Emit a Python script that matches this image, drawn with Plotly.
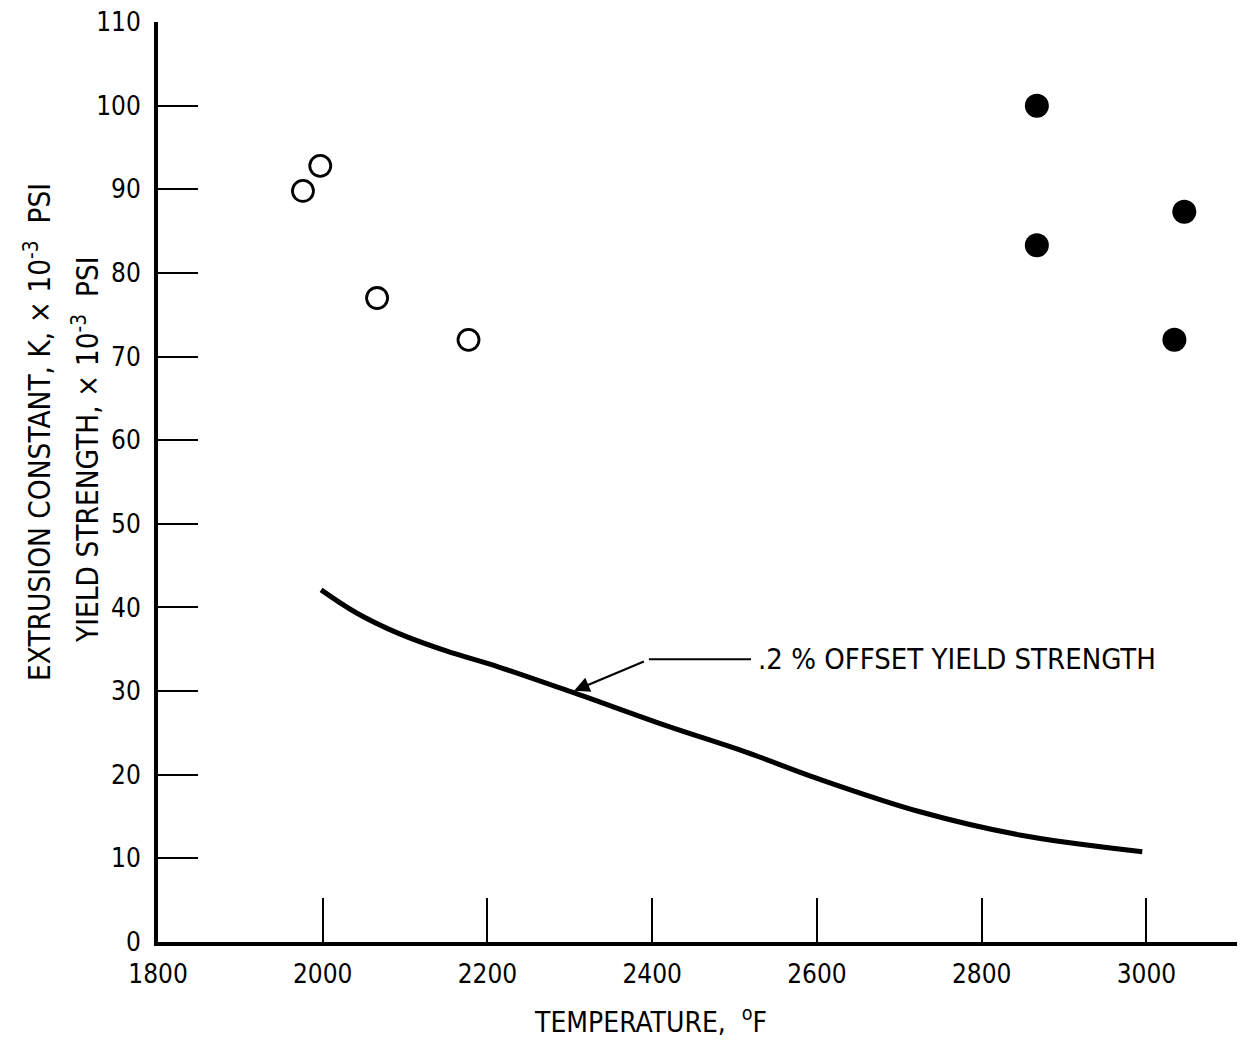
import plotly.graph_objects as go

# Open circles (extrusion constant, lower-temperature set)
open_temp = [1976, 1997, 2066, 2177]
open_k = [89.8, 92.8, 77.0, 72.0]

# Filled circles (extrusion constant, higher-temperature set)
filled_temp = [2867, 2867, 3046, 3034]
filled_k = [100.0, 83.3, 87.3, 72.0]

# 0.2 % offset yield strength curve
ys_temp = [1998, 2040, 2092, 2150, 2213, 2302, 2416, 2514, 2602, 2724, 2846, 2995]
ys_val = [42.1, 39.4, 36.9, 34.8, 32.9, 29.9, 25.9, 22.7, 19.5, 15.6, 12.8, 10.8]

x_ticks = [1800, 2000, 2200, 2400, 2600, 2800, 3000]
y_ticks = [0, 10, 20, 30, 40, 50, 60, 70, 80, 90, 100, 110]

FONT = "Liberation Sans Narrow, DejaVu Sans Condensed, Roboto Condensed, Lato, sans-serif"

plot_l, plot_r, plot_t, plot_b = 158, 1237, 22, 942
W, H = 1242, 1046

fig = go.Figure()

fig.add_trace(go.Scatter(
    x=ys_temp, y=ys_val, mode="lines",
    line=dict(color="black", width=5, shape="spline", smoothing=1.0),
    showlegend=False, hoverinfo="skip"))

fig.add_trace(go.Scatter(
    x=open_temp, y=open_k, mode="markers",
    marker=dict(symbol="circle-open", size=21, color="black", line=dict(width=2.8, color="black")),
    showlegend=False, cliponaxis=False))

fig.add_trace(go.Scatter(
    x=filled_temp, y=filled_k, mode="markers",
    marker=dict(symbol="circle", size=24, color="black"),
    showlegend=False, cliponaxis=False))

# Callout leader line
fig.add_shape(type="line", x0=2396, y0=33.8, x1=2520, y1=33.8,
              xref="x", yref="y", line=dict(color="black", width=2))
fig.add_annotation(x=2304, y=30.0, ax=2396, ay=33.8, axref="x", ayref="y",
                   xref="x", yref="y", text=" ", showarrow=True,
                   arrowhead=2, arrowsize=1.4, arrowwidth=2.2, arrowcolor="black", standoff=1)
fig.add_annotation(x=2526, y=33.8, xref="x", yref="y", text=".2 % OFFSET YIELD STRENGTH",
                   showarrow=False, xanchor="left", yanchor="middle",
                   font=dict(family=FONT, size=29, color="black"))

fig.update_layout(
    width=W, height=H,
    margin=dict(l=plot_l, r=W - plot_r, t=plot_t, b=H - plot_b),
    paper_bgcolor="white", plot_bgcolor="white",
    font=dict(family=FONT, size=26, color="black"),
    xaxis=dict(range=[1800, 3110], tickvals=x_ticks, ticktext=[str(v) for v in x_ticks],
               showgrid=False, zeroline=False, showline=True, linecolor="black", linewidth=4,
               ticks="inside", ticklen=44, tickwidth=2, tickcolor="black",
               ticklabelstandoff=6),
    yaxis=dict(range=[0, 110], tickvals=y_ticks, ticktext=[str(v) for v in y_ticks],
               showgrid=False, zeroline=False, showline=True, linecolor="black", linewidth=4,
               ticks="inside", ticklen=40, tickwidth=2, tickcolor="black",
               ticklabelstandoff=8),
)

def px_to_paper(px, py):
    return (px - plot_l) / (plot_r - plot_l), (plot_b - py) / (plot_b - plot_t)

# X-axis title
xt, yt = px_to_paper(650, 1020)
fig.add_annotation(x=xt, y=yt, xref="paper", yref="paper", showarrow=False,
                   text="TEMPERATURE,&nbsp;&nbsp;<sup>o</sup>F",
                   font=dict(family=FONT, size=28, color="black"), xanchor="center", yanchor="middle")

# Y-axis titles (two lines, rotated)
x1, y1 = px_to_paper(38, 432)
x2, y2 = px_to_paper(86, 450)
fig.add_annotation(x=x1, y=y1, xref="paper", yref="paper", textangle=-90, showarrow=False,
                   text="EXTRUSION CONSTANT, K, × 10<sup>-3</sup>&nbsp;&nbsp;PSI",
                   font=dict(family=FONT, size=29.5, color="black"), xanchor="center", yanchor="middle")
fig.add_annotation(x=x2, y=y2, xref="paper", yref="paper", textangle=-90, showarrow=False,
                   text="YIELD STRENGTH, × 10<sup>-3</sup>&nbsp;&nbsp;PSI",
                   font=dict(family=FONT, size=29.5, color="black"), xanchor="center", yanchor="middle")

fig.write_html("out.html",
               config={"displayModeBar": False},
               post_script="document.body.style.margin='0';document.body.style.overflow='hidden';")
